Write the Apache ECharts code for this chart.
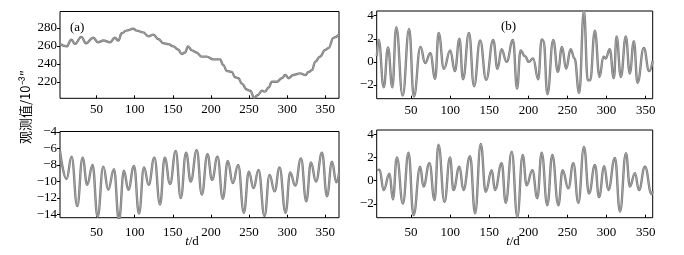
<!DOCTYPE html>
<html><head><meta charset="utf-8">
<script src="https://cdn.jsdelivr.net/npm/echarts@6/dist/echarts.min.js"></script>
<style>html,body{margin:0;padding:0;background:#fff}#c{width:684px;height:255px}</style>
</head><body><div id="c"></div>
<script>
// ---- Data ----
const aDays = [2,10.6,17,21.5,30,36,45.6,52,59,67.5,74,78.5,83,89,98,102.6,111,118,124.5,131,137.6,144,150.7,157,161.7,166,170,175,181,188,194.5,203,212,216,221,227,232,236,240.5,247,251.5,256.7,261,267,271,275.6,280,286.5,293,297.5,302,308,317,324,328,332.5,337,343,350,354,361,368];
const aVals = [262,259.4,267,262,270,263,269,264,266,264,269,265.8,274,277,279,277,275,270.6,272.5,267.6,263,262,259.4,256,251,252.6,259.4,255,252.6,248,248,245,245,238.8,232,231,225,224,218,211.4,210,202.4,205,210,209,213.6,220,220,224,227.5,224,227.5,229.4,227.5,231,233,242.5,248,255.6,257.5,269,272.5];

const bDays = [6.2,8.5,15,20.5,26,31,39.2,47.5,53.5,62,68,74.5,80.8,85.2,92,100,106,111.8,116.4,124,130.5,138.3,146,155,160.5,165.7,172.1,180.3,185.5,190,195.6,200.5,206,212.6,217,219.5,224.3,231.8,237.7,243,248.3,254,259,265,271,276,279,285,291,296,299,304,309.3,312.8,318.3,324.6,329.7,334.9,339.6,347.6,354.5,359];
const bVals = [0.5,1.9,-2.2,1.25,-2.2,3.0,-2.9,2.85,-3.0,1.3,-0.1,0.75,-1.45,2.5,-0.6,1.0,-0.8,2.0,-1.5,2.5,-2.1,1.85,-1.55,1.9,-0.6,1.1,0.0,1.9,-2.3,1.0,0.5,0.0,0.3,-1.5,1.95,1.8,-2.8,1.9,-0.85,1.3,-0.6,1.1,0.3,-2.7,4.4,-1.6,-1.6,2.7,-1.3,0.45,0.3,1.1,-1.4,2.2,-1.3,2.2,-1.0,1.8,-1.8,1.2,-0.8,0.1];

const cDays = [2,10.6,17.2,24.6,31.6,37.7,44.7,51.3,58.8,65.3,72.8,79.3,85.9,91.6,99.1,105.6,112.2,118.3,125.8,133.2,139.4,146.4,153.8,160.4,167.4,173.5,181.4,188,195.4,201.5,208.6,215.6,222.1,228.7,235.7,243.2,249.7,255.9,262.4,270.3,276.9,283.5,290,297.9,304,310.6,318.1,325.1,331.2,337.8,345.7,352.2,358.8,364.5,368];
const cVals = [-6.3,-9.7,-7.0,-13.0,-7.1,-10.4,-8.0,-14.3,-8.2,-11.0,-8.5,-14.7,-8.7,-11.0,-8.1,-13.9,-8.3,-10.4,-7.1,-12.8,-7.1,-10.3,-6.3,-12.0,-6.5,-10.0,-6.2,-11.6,-6.7,-9.8,-7.0,-12.1,-7.5,-10.2,-8.0,-13.8,-8.8,-10.8,-8.6,-14.2,-9.2,-11.2,-8.3,-13.8,-8.9,-10.5,-7.2,-12.4,-7.7,-10.0,-6.5,-11.8,-7.6,-10.1,-9.0];

const dDays = [6.3,9.7,14.8,22.4,26.7,31.8,39.5,46.7,53.1,61.6,65.8,73.5,79.9,85,92.7,99.8,104.1,111.8,116.9,125.4,131.8,139.1,145.4,153.1,157.3,165.9,171,178.7,185.9,192.7,197.8,205.1,211.4,217,224.2,230.6,238.3,243.8,251.1,257.5,263.9,271.1,277.5,285.2,290.3,297.1,302.2,310.7,317.1,324.8,329.9,336.3,341.4,349.1,357.6,359];
const dVals = [0.9,0.95,-0.8,0.6,-1.6,2.0,-1.95,2.4,-2.95,1.2,-0.5,1.5,-1.65,3.1,-1.8,2.0,-0.8,1.2,-0.8,2.1,-2.8,3.15,-0.95,0.9,-0.8,1.5,-1.9,2.5,-3.1,2.2,-0.4,0.9,-1.5,2.4,-2.1,2.2,-2.1,0.9,-0.65,1.5,-1.9,2.9,-1.1,1.35,-1.4,1.25,-0.8,1.95,-2.65,2.35,-0.5,0.65,-0.8,1.2,-1.15,-0.9];

const xTicks = [50,100,150,200,250,300,350];
const aTicks = [220,240,260,280];
const bTicks = [-2,0,2,4];
const cTicks = [-14,-12,-10,-8,-6,-4];
const dTicks = [-2,0,2,4];

// ---- Chart ----
const FONT = 'Liberation Serif';
const fmt = v => String(v).replace('-', '\u2212');
const zip = (xs, ys) => xs.map((x, i) => [x, ys[i]]);

const grids = [
  {left: 60, top: 11.5, width: 279, height: 86.8},
  {left: 376.7, top: 11, width: 276, height: 87.7},
  {left: 60, top: 131.5, width: 279, height: 86.2},
  {left: 376.7, top: 130, width: 276, height: 87.7}
];
const xr = [[2,368],[6,359],[2,368],[6,359]];
const yr = [[201.6,298.3],[-3.18,4.4],[-14.4,-3.93],[-3.17,4.35]];
const yt = [aTicks,bTicks,cTicks,dTicks];
const xMargin = [5, 5, 8, 8];
const series = [zip(aDays,aVals), zip(bDays,bVals), zip(cDays,cVals), zip(dDays,dVals)];

const lineSeries = [];
series.forEach((d, i) => {
  lineSeries.push({
    type: 'line', xAxisIndex: i, yAxisIndex: i, data: d, silent: true,
    showSymbol: false, smooth: 0.45, smoothMonotone: 'x', clip: true,
    lineStyle: {color: '#7c7c7c', width: 2.4}
  });
  lineSeries.push({
    type: 'line', xAxisIndex: i, yAxisIndex: i, data: d, silent: true,
    showSymbol: false, smooth: 0.45, smoothMonotone: 'x', clip: true,
    lineStyle: {color: '#a4a4a4', width: 1}
  });
});

const option = {
  animation: false,
  backgroundColor: '#fff',
  grid: grids.map(g => Object.assign({show: true, borderColor: '#000', borderWidth: 1, backgroundColor: 'transparent'}, g)),
  xAxis: grids.map((g, i) => ({
    type: 'value', gridIndex: i, min: xr[i][0], max: xr[i][1], position: 'bottom',
    axisLine: {show: false, onZero: false}, splitLine: {show: false},
    axisTick: {inside: true, length: 3, customValues: xTicks, lineStyle: {color: '#000'}},
    axisLabel: {customValues: xTicks, margin: xMargin[i], color: '#000', fontFamily: FONT, fontSize: 13}
  })),
  yAxis: grids.map((g, i) => ({
    type: 'value', gridIndex: i, min: yr[i][0], max: yr[i][1], position: 'left',
    axisLine: {show: false, onZero: false}, splitLine: {show: false},
    axisTick: {inside: false, length: 3, customValues: yt[i], lineStyle: {color: '#000'}},
    axisLabel: {customValues: yt[i], margin: 3, color: '#000', fontFamily: FONT, fontSize: 13, formatter: fmt}
  })),
  series: lineSeries,
  graphic: [
    {type: 'text', x: 70, y: 21, style: {text: '(a)', font: '13px "Liberation Serif"', fill: '#000'}},
    {type: 'text', x: 501, y: 20, style: {text: '(b)', font: '13px "Liberation Serif"', fill: '#000'}},
    {type: 'text', x: 25, y: 107, rotation: Math.PI / 2,
      style: {text: '观测值/10\u207B\u00B3\u2033', font: '13px "Noto Sans CJK SC", "Liberation Serif"', fill: '#000', align: 'center', verticalAlign: 'middle'}},
    {type: 'text', x: 192, y: 242, style: {text: '{i|t}/d', font: '13px "Liberation Serif"', fill: '#000', align: 'center', verticalAlign: 'middle',
      rich: {i: {fontStyle: 'italic', fontFamily: FONT, fontSize: 13}}}},
    {type: 'text', x: 513, y: 242, style: {text: '{i|t}/d', font: '13px "Liberation Serif"', fill: '#000', align: 'center', verticalAlign: 'middle',
      rich: {i: {fontStyle: 'italic', fontFamily: FONT, fontSize: 13}}}}
  ]
};
const chart = echarts.init(document.getElementById('c'), null, {renderer: 'canvas'});
chart.setOption(option);
</script></body></html>
